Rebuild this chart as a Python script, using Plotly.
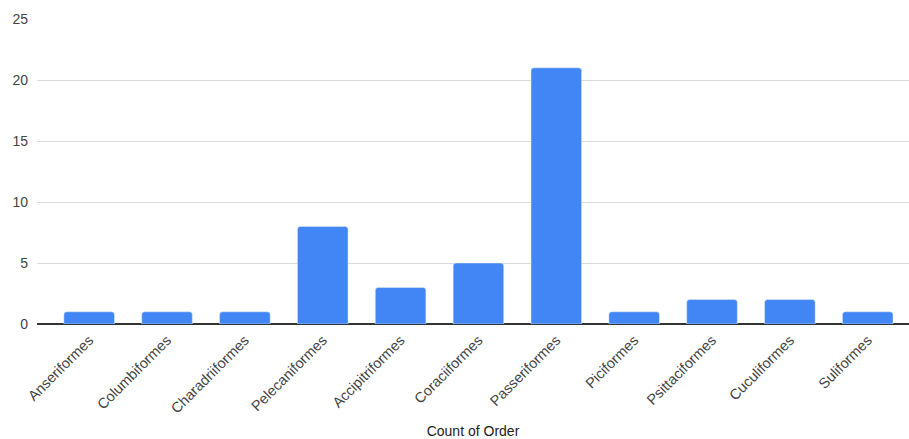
import plotly.graph_objects as go

orders = ["Anseriformes", "Columbiformes", "Charadriiformes", "Pelecaniformes",
          "Accipitriformes", "Coraciiformes", "Passeriformes", "Piciformes",
          "Psittaciformes", "Cuculiformes", "Suliformes"]
counts = [1, 1, 1, 8, 3, 5, 21, 1, 2, 2, 1]
y_ticks = [0, 5, 10, 15, 20, 25]

fig = go.Figure(go.Bar(x=orders, y=counts, marker_color="#4285F4",
                       width=0.65))
fig.update_layout(
    width=909, height=439,
    margin=dict(l=37, r=0, t=19, b=115),
    plot_bgcolor="white", paper_bgcolor="white",
    barcornerradius=3,
    font=dict(family="Arial, Liberation Sans, sans-serif", size=14, color="#444"),
    showlegend=False,
)
fig.update_xaxes(range=[-0.67, 10.53], tickangle=-45, showgrid=False, automargin=False,
                 title=dict(text="Count of Order", font=dict(size=14, color="#222"), standoff=18),
                 tickfont=dict(size=14.5, color="#444"), ticks="", ticklabelstandoff=4)
fig.update_yaxes(range=[0, 25], tickvals=y_ticks, gridcolor="#d9d9d9", automargin=False,
                 zeroline=True, zerolinecolor="#333", zerolinewidth=1.5,
                 tickfont=dict(size=14, color="#444"), ticks="", ticklabelstandoff=8)
fig.write_html("out.html")
